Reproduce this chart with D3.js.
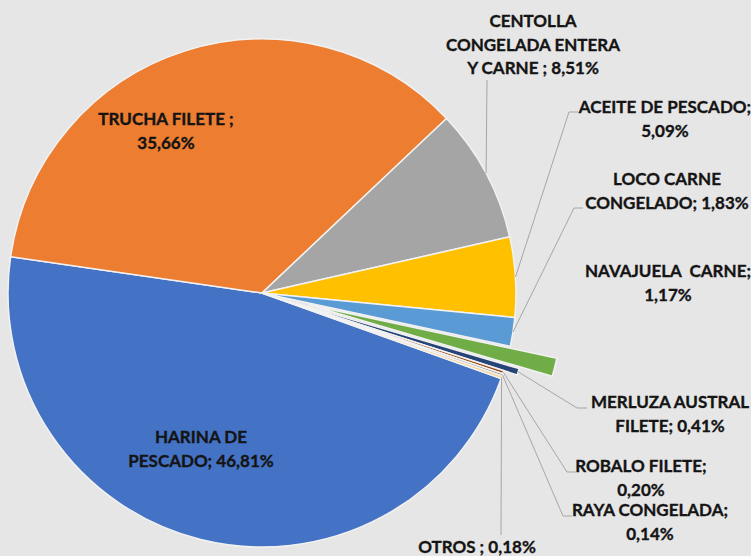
<!DOCTYPE html>
<html>
<head>
<meta charset="utf-8">
<script src="https://cdn.jsdelivr.net/npm/d3@7"></script>
<style>
  html, body { margin: 0; padding: 0; background: #e7e6e6; }
  svg text { font-family: Lato, "Open Sans", sans-serif; font-weight: bold; fill: #141414; stroke: #141414; stroke-width: 0.35px; }
</style>
</head>
<body>
<svg id="chart" width="751" height="556"></svg>
<script>
// data, in the order Excel draws the slices
const categories = ["HARINA DE PESCADO", "TRUCHA FILETE", "CENTOLLA CONGELADA ENTERA Y CARNE",
  "ACEITE DE PESCADO", "LOCO CARNE CONGELADO", "NAVAJUELA CARNE", "MERLUZA AUSTRAL FILETE",
  "ROBALO FILETE", "RAYA CONGELADA", "OTROS"];
const shares = [46.81, 35.66, 8.51, 5.09, 1.83, 1.17, 0.41, 0.20, 0.14, 0.18];
const pctLabels = ["46,81%", "35,66%", "8,51%", "5,09%", "1,83%", "1,17%", "0,41%", "0,20%", "0,14%", "0,18%"];

const colors = ["#4472c4", "#ed7d31", "#a5a5a5", "#ffc000", "#5b9bd5", "#70ad47", "#264478", "#9e480e", "#7f7f7f", "#f8d49c"];
const explode = [0, 0, 0, 0, 0, 48, 14, 0, 0, 0];

// label layout: text lines, centre x, first baseline, leader polyline ends
const labelLayout = [
  { lines: ["HARINA DE", "PESCADO; 46,81%"], x: 201, y: 443 },
  { lines: ["TRUCHA FILETE ;", "35,66%"], x: 166, y: 125 },
  { lines: ["CENTOLLA", "CONGELADA ENTERA", "Y CARNE ; 8,51%"], x: 533, y: 27, leader: [[487, 80]] },
  { lines: ["ACEITE DE PESCADO;", "5,09%"], x: 665, y: 113, leader: [[569, 112], [578, 112]] },
  { lines: ["LOCO CARNE", "CONGELADO; 1,83%"], x: 667, y: 185, leader: [[574, 208], [583, 208]] },
  { lines: ["NAVAJUELA  CARNE;", "1,17%"], x: 668, y: 277 },
  { lines: ["MERLUZA AUSTRAL", "FILETE; 0,41%"], x: 670, y: 408, leader: [[577, 408], [587, 408]] },
  { lines: ["ROBALO FILETE;", "0,20%"], x: 641, y: 472, leader: [[567, 472], [576, 472]] },
  { lines: ["RAYA CONGELADA;", "0,14%"], x: 650, y: 516, leader: [[563, 516], [572, 516]] },
  { lines: ["OTROS ; 0,18%"], x: 477, y: 553, leader: [[501, 535]] }
];

const cx = 262, cy = 293, radius = 254;
const startDeg = 109.7;

const svg = d3.select("#chart");
const g = svg.append("g").attr("transform", `translate(${cx},${cy})`);

const pie = d3.pie()
  .sort(null)
  .value(d => d)
  .startAngle(startDeg * Math.PI / 180)
  .endAngle(startDeg * Math.PI / 180 + 2 * Math.PI);

const arcs = pie(shares);
const arc = d3.arc().innerRadius(0).outerRadius(radius);

function offset(d, i) {
  const a = (d.startAngle + d.endAngle) / 2;
  return [Math.sin(a) * explode[i], -Math.cos(a) * explode[i]];
}

g.selectAll("path.slice")
  .data(arcs)
  .join("path")
  .attr("class", "slice")
  .attr("d", arc)
  .attr("transform", (d, i) => {
    const o = offset(d, i);
    return `translate(${o[0]},${o[1]})`;
  })
  .attr("fill", (d, i) => colors[i])
  .attr("stroke", "#f2f2f2")
  .attr("stroke-width", 1.5);

// leader lines, from the slice's outer edge to the label
const line = d3.line();
arcs.forEach((d, i) => {
  const lay = labelLayout[i];
  if (!lay.leader) return;
  const a = (d.startAngle + d.endAngle) / 2;
  const r = radius + explode[i];
  const p0 = [cx + Math.sin(a) * r, cy - Math.cos(a) * r];
  const pts = [p0].concat(lay.leader);
  svg.append("path")
    .attr("d", line(pts))
    .attr("fill", "none")
    .attr("stroke", "#a6a6a6")
    .attr("stroke-width", 1);
});

// labels
labelLayout.forEach((lay, i) => {
  const t = svg.append("text")
    .attr("text-anchor", "middle")
    .style("font-size", "17px");
  lay.lines.forEach((s, k) => {
    t.append("tspan")
      .attr("x", lay.x)
      .attr("y", lay.y + k * 23.5)
      .attr("xml:space", "preserve")
      .text(s);
  });
});
</script>
</body>
</html>
